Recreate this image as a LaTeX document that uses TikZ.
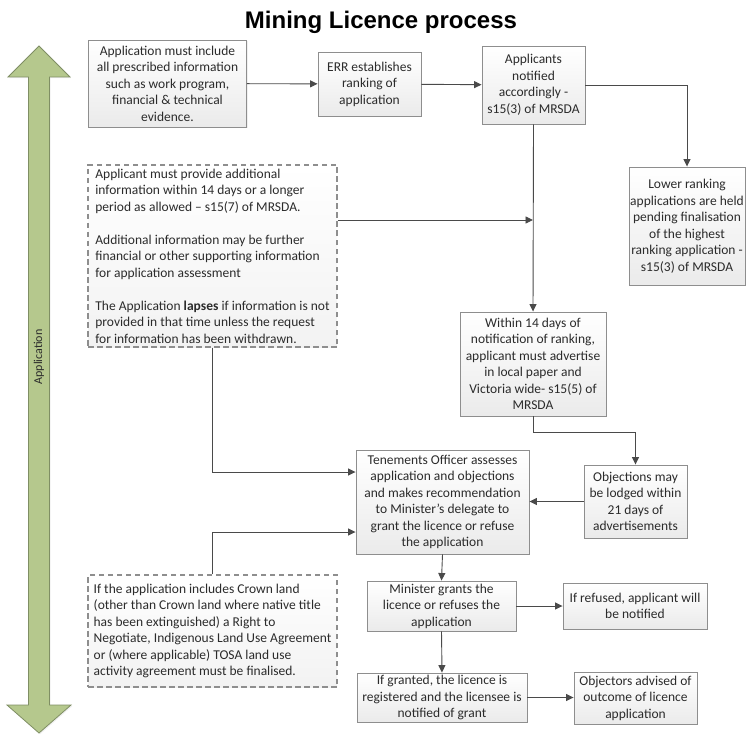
\documentclass[tikz,border=0pt]{standalone}
\usepackage{fontspec}
\setmainfont{Carlito}
\newfontfamily\titlefont{Liberation Sans}
\usetikzlibrary{arrows.meta,shadows,calc}
\definecolor{lineC}{HTML}{4A4A4A}
\definecolor{boxC}{HTML}{8E8E8E}
\definecolor{txtC}{HTML}{2B2B2B}
\definecolor{greenF}{HTML}{B5C88D}
\definecolor{greenD}{HTML}{7F8E64}
\tikzset{
  bx/.style 2 args={draw=boxC, line width=0.9pt, top color=white, bottom color=black!8,
    drop shadow={opacity=0.12, shadow xshift=1.2pt, shadow yshift=-1.2pt},
    align=center, inner sep=1pt, text=txtC,
    font=\fontsize{13.5}{16.5}\selectfont,
    minimum width=#1pt, minimum height=#2pt},
  dbx/.style 2 args={draw=boxC, line width=1.1pt, dash pattern=on 5.5pt off 3.5pt,
    top color=white, bottom color=black!5,
    align=left, inner sep=1pt, text=txtC,
    font=\fontsize{13.5}{16.5}\selectfont,
    minimum width=#1pt, minimum height=#2pt},
  arr/.style={draw=lineC, line width=0.9pt, -{Triangle[length=7.5pt,width=7pt]}},
}
\begin{document}
\begin{tikzpicture}[x=1pt,y=-1pt]
\useasboundingbox (0,0) rectangle (746,735);
% title
\node[anchor=base, font=\titlefont\bfseries\fontsize{24}{28}\selectfont] (title) at (381,29) {Mining Licence process};
% green double arrow
\path[fill=greenF, draw=greenD, line width=0.8pt,
  drop shadow={opacity=0.12, shadow xshift=1.2pt, shadow yshift=-1.2pt}]
  (39,46) -- (70,77) -- (49.5,77) -- (49.5,705) -- (71,705) -- (39,733)
  -- (7,705) -- (28.5,705) -- (28.5,77) -- (8,77) -- cycle;
\node[rotate=90, text=txtC, font=\fontsize{12}{14}\selectfont] (lab) at (39,357) {Application};
% boxes
\node[bx={158}{87}] (A) at (167.5,83.5) {Application must include\\ all prescribed information\\ such as work program,\\ financial \& technical\\ evidence.};
\node[bx={103}{64}] (B) at (369.5,84) {ERR establishes\\ ranking of\\ application};
\node[bx={103}{78}] (C) at (533.5,85) {Applicants\\ notified\\ accordingly -\\ s15(3) of MRSDA};
\node[bx={116}{118}] (D) at (687,226) {Lower ranking\\ applications are held\\ pending finalisation\\ of the highest\\ ranking application -\\ s15(3) of MRSDA};
\node[bx={146}{104}] (E) at (533,364) {Within 14 days of\\ notification of ranking,\\ applicant must advertise\\ in local paper and\\ Victoria wide- s15(5) of\\ MRSDA};
\node[dbx={249}{182}] (F) at (212.5,256) {Applicant must provide additional\\ information within 14 days or a longer\\ period as allowed – s15(7) of MRSDA.\\[16.5pt] Additional information may be further\\ financial or other supporting information\\ for application assessment\\[16.5pt] The Application \textbf{lapses} if information is not\\ provided in that time unless the request\\ for information has been withdrawn.};
\node[bx={173}{104}] (G) at (442.5,502) {Tenements Officer assesses\\ application and objections\\ and makes recommendation\\ to Minister’s delegate to\\ grant the licence or refuse\\ the application};
\node[bx={103}{73}] (H) at (635.5,501.5) {Objections may\\ be lodged within\\ 21 days of\\ advertisements};
\node[dbx={249}{112}] (I) at (212.5,631) {If the application includes Crown land\\ (other than Crown land where native title\\ has been extinguished) a Right to\\ Negotiate, Indigenous Land Use Agreement\\ or (where applicable) TOSA land use\\ activity agreement must be finalised.};
\node[bx={149}{50}] (J) at (441.5,606) {Minister grants the\\ licence or refuses the\\ application};
\node[bx={144}{46}] (K) at (635,606) {If refused, applicant will\\ be notified};
\node[bx={170}{49}] (L) at (442,697.5) {If granted, the licence is\\ registered and the licensee is\\ notified of grant};
\node[bx={123}{52}] (M) at (635.5,698) {Objectors advised of\\ outcome of licence\\ application};
% connectors
\draw[arr] (A) -- (B);
\draw[arr] (B) -- (C);
\draw[arr] (C.east) -| (D.north);
\draw[arr] (C.south) -- (E.north);
\coordinate (fy) at (533,220);
\draw[arr] (fy -| F.east) -- (fy);
\coordinate (gy1) at (0,472);
\coordinate (gy2) at (0,532);
\draw[arr] (F.south) |- (gy1 -| G.west);
\draw[arr] (I.north) |- (gy2 -| G.west);
\draw[arr] (E.south) -- ++(0,16) -| (H.north);
\draw[arr] (H.west) -- (H.west -| G.east);
\draw[arr] (G.south) -- (J.north);
\draw[arr] (J.east) -- (J.east -| K.west);
\draw[arr] (J.south) -- (L.north);
\draw[arr] (L.east) -- (L.east -| M.west);
\end{tikzpicture}
\end{document}
